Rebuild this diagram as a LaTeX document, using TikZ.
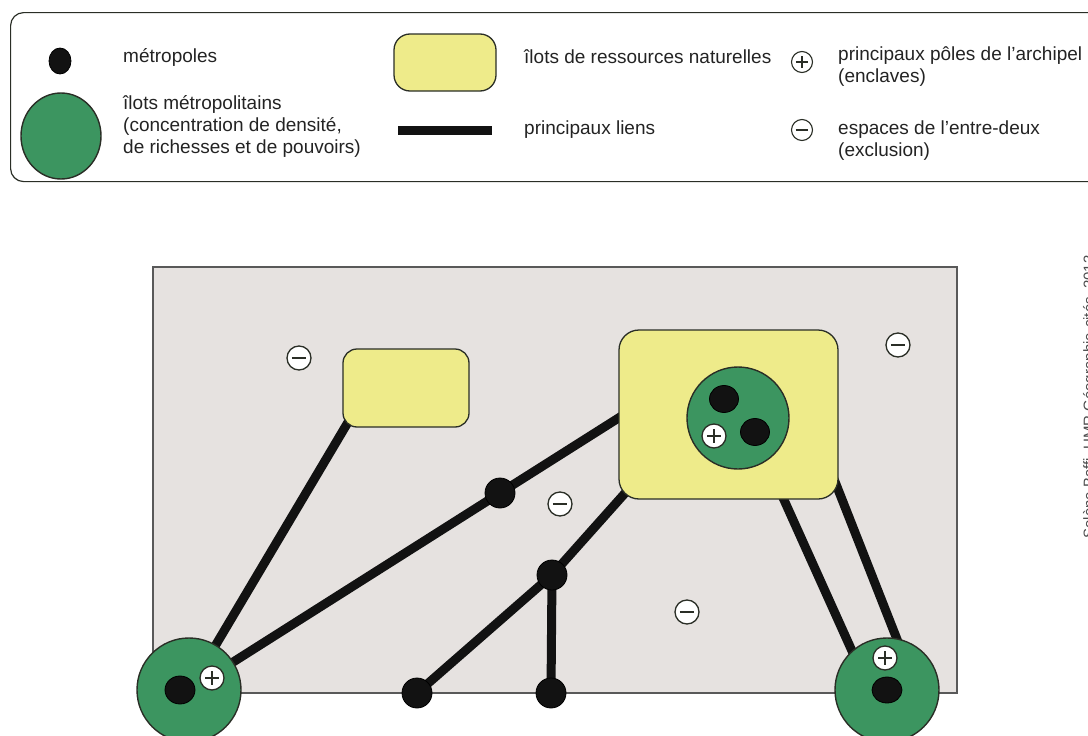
\documentclass[tikz,border=0pt]{standalone}
\usepackage{fontspec}
\setmainfont{Liberation Sans}
\usetikzlibrary{calc,shapes.geometric}
\definecolor{ilotgreen}{RGB}{60,149,96}
\definecolor{ressyellow}{RGB}{238,235,138}
\definecolor{mapgray}{RGB}{230,226,224}
\definecolor{edgecol}{RGB}{42,46,38}
\definecolor{txtcol}{RGB}{35,35,35}
\pgfdeclarelayer{back}
\pgfdeclarelayer{mid}
\pgfsetlayers{back,mid,main}
\tikzset{
  metro/.style={circle, fill=black!93, draw=black, line width=0.8pt, minimum size=30pt, inner sep=0pt},
  ilot/.style={circle, fill=ilotgreen, draw=edgecol, line width=1.4pt, minimum size=104pt, inner sep=0pt},
  ress/.style={rectangle, rounded corners=#1, fill=ressyellow, draw=edgecol, line width=1.3pt, inner sep=0pt},
  ress/.default=15pt,
  lien/.style={line width=9pt, black!93},
  sign/.style={circle, fill=white, draw=edgecol, line width=1.3pt, minimum size=#1, inner sep=0pt},
  sign/.default=24pt,
  pluspole/.style={sign=#1, path picture={\draw[edgecol, line width=1.4pt]
      ([xshift=-0.29*#1]path picture bounding box.center) -- ([xshift=0.29*#1]path picture bounding box.center)
      ([yshift=-0.29*#1]path picture bounding box.center) -- ([yshift=0.29*#1]path picture bounding box.center);}},
  pluspole/.default=24pt,
  minuspole/.style={sign=#1, path picture={\draw[edgecol, line width=1.4pt]
      ([xshift=-0.3*#1]path picture bounding box.center) -- ([xshift=0.3*#1]path picture bounding box.center);}},
  minuspole/.default=24pt,
  txt/.style={anchor=west, align=left, inner sep=0pt, text=txtcol, font=\fontsize{19}{22}\selectfont},
}
\begin{document}
\begin{tikzpicture}[x=1pt,y=-1pt]
\useasboundingbox (0,0) rectangle (1088,736);
\clip (0,0) rectangle (1088,736);

% ---------------- legend ----------------
\node[draw=edgecol, line width=1.2pt, rounded corners=13pt, minimum width=1110pt, minimum height=169pt, inner sep=0pt, anchor=north west] (legend) at (10,12) {};

\node[metro, ellipse, minimum width=22pt, minimum height=26pt] (lgmetro) at (60,61) {};
\node[txt] (lgmetrot) at (123,57) {métropoles};
\node[ilot, ellipse, minimum width=80pt, minimum height=86pt] (lgilot) at (61,136) {};
\node[txt] (lgilott) at (123,126) {îlots métropolitains\\(concentration de densité,\\de richesses et de pouvoirs)};

\node[ress=16pt, minimum width=102pt, minimum height=57pt] (lgress) at (445,62.5) {};
\node[txt] (lgresst) at (524,57) {îlots de ressources naturelles};
\node[fill=black!93, minimum width=94pt, minimum height=9pt, inner sep=0pt] (lglien) at (445,130) {};
\node[txt] (lglient) at (524,130) {principaux liens};

\node[pluspole=21pt, fill=none, line width=1.1pt] (lgplus) at (802,62) {};
\node[txt] (lgplust) at (838,67) {principaux pôles de l'archipel\\(enclaves)};
\node[minuspole=21pt, fill=none, line width=1.1pt] (lgminus) at (802,130) {};
\node[txt] (lgminust) at (838,141) {espaces de l'entre-deux\\(exclusion)};

% ---------------- map ----------------
\begin{pgfonlayer}{back}
\node[fill=mapgray, draw=black!65, line width=1.3pt, minimum width=804pt, minimum height=426pt, inner sep=0pt] (map) at (555,480) {};
\end{pgfonlayer}

\node[ress=14pt, minimum width=126pt, minimum height=78pt] (r1) at (406,388) {};
\node[ress=20pt, minimum width=219pt, minimum height=169pt] (rb) at (728.5,414.5) {};
\node[ilot, minimum size=102pt] (gc) at (738,418) {};
\node[metro, minimum width=29pt, minimum height=27pt, ellipse] (m1) at (724,399) {};
\node[metro, minimum width=29pt, minimum height=27pt, ellipse] (m2) at (755,432) {};
\node[pluspole] (p1) at (714,436) {};

\node[minuspole] (n1) at (299,358) {};
\node[minuspole] (n2) at (560,504) {};
\node[minuspole] (n3) at (687,612) {};
\node[minuspole] (n4) at (898,345) {};

\node[ilot] (bl) at (189,690) {};
\node[metro, ellipse, minimum width=30pt, minimum height=28pt] (mbl) at (180,690) {};
\node[pluspole] (pbl) at (212,678) {};

\node[ilot] (br) at (887,690) {};
\node[metro, ellipse, minimum width=30pt, minimum height=26pt] (mbr) at (887,690) {};
\node[pluspole] (pbr) at (885,658) {};

\node[metro] (d1) at (500,493) {};
\node[metro] (j) at (552,575) {};
\node[metro] (d2) at (417,693) {};
\node[metro] (d3) at (551,693) {};

\begin{pgfonlayer}{mid}
\draw[lien] ([shift={(6,-6)}]r1.south west) -- (bl.center);
\draw[lien] ([shift={(12,-4)}]rb.west) -- (d1.center) -- (bl.center);
\draw[lien] ([shift={(8,-8)}]rb.south west) -- (j.center);
\draw[lien] (j.center) -- (d2.center);
\draw[lien] (j.center) -- (d3.center);
\draw[lien] ([shift={(50,-12)}]rb.south) -- ($(br.135)!0.15!(br.center)$);
\draw[lien] ([shift={(-6,-24)}]rb.south east) -- ($(br.73)!0.15!(br.center)$);
\end{pgfonlayer}

% credit (cut by the right edge, as in the reference)
\node[rotate=90, anchor=base, inner sep=0pt, text=black!70, font=\fontsize{15}{17}\selectfont] (credit) at (1094,397) {Solène Baffi, UMR Géographie-cités, 2013};
\end{tikzpicture}
\end{document}
